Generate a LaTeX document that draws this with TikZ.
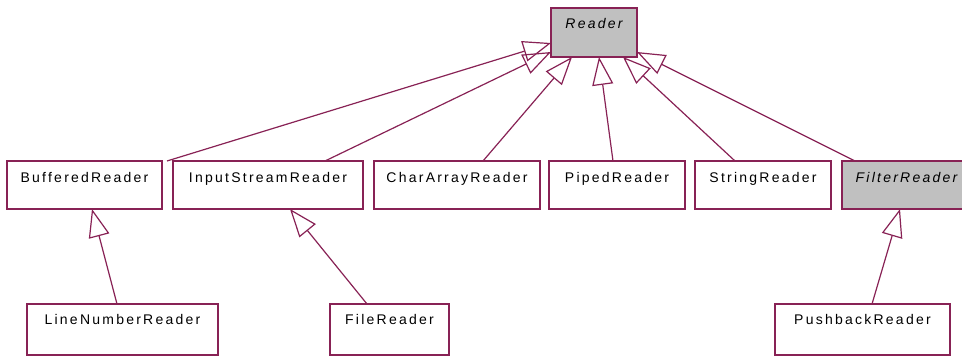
\documentclass[tikz,border=0pt]{standalone}
\usepackage{fontspec}
\usetikzlibrary{arrows.meta}
\newfontfamily\umlfont[LetterSpace=16]{Liberation Sans}
\definecolor{umlline}{RGB}{136,34,85}
\definecolor{abstractfill}{RGB}{192,192,192}
\begin{document}
\begin{tikzpicture}[x=1pt,y=-1pt,
  classbox/.style={draw=umlline, line width=1.2pt, inner sep=0pt, outer sep=0pt, anchor=north west},
  abstractbox/.style={classbox, fill=abstractfill},
  classname/.style={anchor=base, inner sep=0pt, font=\umlfont\fontsize{14}{14}\selectfont},
  abstractname/.style={classname, font=\umlfont\fontsize{14}{14}\selectfont\itshape},
  inherit/.style={draw=umlline, line width=1.2pt, -{Triangle[open, length=28pt, width=21pt]}}
]
\clip (0,0) rectangle (962,356);
\fill[white] (0,0) rectangle (962,356);

% abstract base class
\node[abstractbox, minimum width=86pt, minimum height=49pt] (reader) at (551,8) {};
\node[abstractname] (readerT) at ([yshift=-20.5pt]reader.north) {Reader};

% direct subclasses
\node[classbox, minimum width=155pt, minimum height=48pt] (br) at (7,161) {};
\node[classbox, minimum width=190pt, minimum height=48pt] (isr) at (173,161) {};
\node[classbox, minimum width=166pt, minimum height=48pt] (car) at (374,161) {};
\node[classbox, minimum width=136pt, minimum height=48pt] (pr) at (549,161) {};
\node[classbox, minimum width=136pt, minimum height=48pt] (sr) at (695,161) {};
\node[abstractbox, minimum width=129pt, minimum height=48pt] (fr) at (842,161) {};

\node[classname] (brT) at ([yshift=-21pt]br.north) {BufferedReader};
\node[classname] (isrT) at ([yshift=-21pt]isr.north) {InputStreamReader};
\node[classname] (carT) at ([yshift=-21pt]car.north) {CharArrayReader};
\node[classname] (prT) at ([yshift=-21pt]pr.north) {PipedReader};
\node[classname] (srT) at ([yshift=-21pt]sr.north) {StringReader};
\node[abstractname] (frT) at ([yshift=-21pt]fr.north) {FilterReader};

% second level subclasses
\node[classbox, minimum width=191pt, minimum height=51pt] (lnr) at (27,304) {};
\node[classbox, minimum width=119pt, minimum height=51pt] (fir) at (330,304) {};
\node[classbox, minimum width=175pt, minimum height=51pt] (pbr) at (775,304) {};

\node[classname] (lnrT) at ([yshift=-20.5pt]lnr.north) {LineNumberReader};
\node[classname] (firT) at ([yshift=-20.5pt]fir.north) {FileReader};
\node[classname] (pbrT) at ([yshift=-20.5pt]pbr.north) {PushbackReader};

% generalisation arrows to Reader
\draw[inherit] ([xshift=5pt]br.north east) -- ([yshift=14pt]reader.south west);
\draw[inherit] ([xshift=152pt]isr.north west) -- ([yshift=5pt]reader.south west);
\draw[inherit] ([xshift=109pt]car.north west) -- ([xshift=21pt]reader.south west);
\draw[inherit] ([xshift=64pt]pr.north west) -- ([xshift=48pt]reader.south west);
\draw[inherit] ([xshift=40pt]sr.north west) -- ([xshift=72pt]reader.south west);
\draw[inherit] ([xshift=13pt]fr.north west) -- ([yshift=5pt]reader.south east);

% generalisation arrows to the second level parents
\draw[inherit] ([xshift=90pt]lnr.north west) -- ([xshift=85pt]br.south west);
\draw[inherit] ([xshift=37pt]fir.north west) -- ([xshift=117pt]isr.south west);
\draw[inherit] ([xshift=97pt]pbr.north west) -- ([xshift=58pt]fr.south west);
\end{tikzpicture}
\end{document}
